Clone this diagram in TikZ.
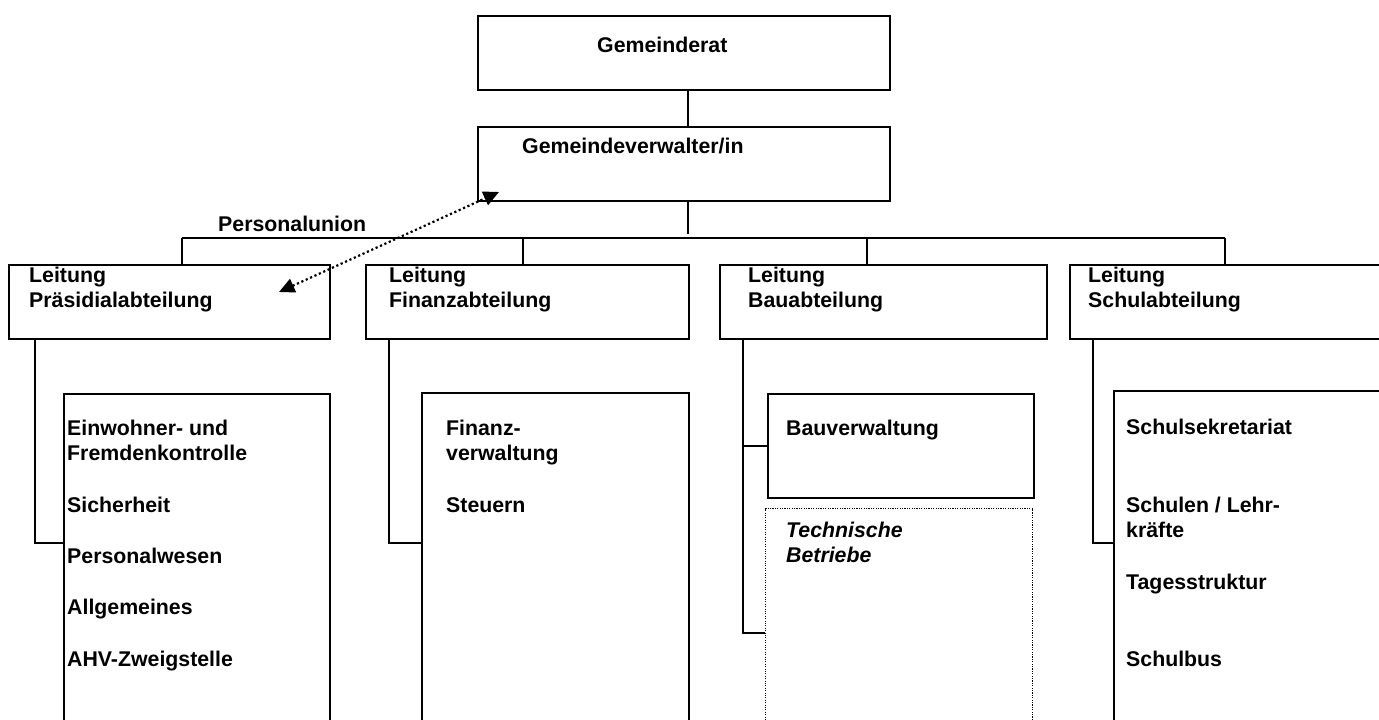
\documentclass[tikz,border=0pt]{standalone}
\usepackage{fontspec}
\setmainfont{Liberation Sans}
\usetikzlibrary{
  arrows.meta
  , calc
}

\begin{document}
\begin{tikzpicture}[
    x=1pt, y=-1pt
    , box/.style={draw, line width=1.7pt, inner sep=0pt, anchor=north west}
    , planned/.style={box, line width=1.1pt, dash pattern=on 1.1pt off 1.3pt}
    , txt/.style={font=\fontsize{21.3}{25.3}\selectfont\bfseries
        , inner sep=0pt, anchor=north west, align=left}
    , conn/.style={line width=1.5pt}
    , union/.style={line width=2.2pt, dash pattern=on 2.2pt off 2.6pt
        , arrows={Triangle[length=15.5pt,width=14.5pt]-Triangle[length=15.5pt,width=14.5pt]}}
  ]
  \useasboundingbox (0,0) rectangle (1379,720);
  \clip (0,0) rectangle (1379,720);

  % top of the chart
  \node [box, minimum width=412pt, minimum height=74pt] (rat) at (477,15) {};
  \node [box, minimum width=412pt, minimum height=74pt] (verw) at (477,126) {};
  \node [txt] (ratT) at ([xshift=120pt,yshift=-22pt]rat.north west) {Gemeinderat};
  \node [txt] (verwT) at ([xshift=45pt,yshift=-12pt]verw.north west) {Gemeindeverwalter/in};
  \draw [conn] ([xshift=4pt]rat.south) -- ([xshift=4pt]verw.north);
  \draw [conn] ([xshift=4pt]verw.south) -- ++(0,32) coordinate (hub);

  % departments
  \node [box, minimum width=321pt, minimum height=74pt] (praes) at (8,264) {};
  \node [box, minimum width=323pt, minimum height=74pt] (fin) at (365,264) {};
  \node [box, minimum width=327pt, minimum height=74pt] (bau) at (719,264) {};
  \node [box, minimum width=330pt, minimum height=74pt] (schul) at (1069,264) {};

  \node [txt] (praesT) at ([xshift=21pt,yshift=-3pt]praes.north west) {Leitung\\Präsidialabteilung};
  \node [txt] (finT) at ([xshift=24pt,yshift=-3pt]fin.north west) {Leitung\\Finanzabteilung};
  \node [txt] (bauT) at ([xshift=29pt,yshift=-3pt]bau.north west) {Leitung\\Bauabteilung};
  \node [txt] (schulT) at ([xshift=19pt,yshift=-3pt]schul.north west) {Leitung\\Schulabteilung};

  \coordinate (b1) at (182,238);
  \coordinate (b2) at (523,238);
  \coordinate (b3) at (867,238);
  \coordinate (b4) at (1225,238);
  \draw [conn] (b1) -- (b4);
  \foreach \d/\n in {b1/praes, b2/fin, b3/bau, b4/schul}
    \draw [conn] (\d) -- (\d |- \n.north);

  % sections
  \node [box, minimum width=266pt, minimum height=340pt] (psub) at (63,393) {};
  \node [box, minimum width=267pt, minimum height=340pt] (fsub) at (421,392) {};
  \node [box, minimum width=266pt, minimum height=104pt] (bv) at (767,393) {};
  \node [planned, minimum width=267pt, minimum height=230pt] (tb) at (765,508) {};
  \node [box, minimum width=290pt, minimum height=340pt] (ssub) at (1113,390) {};

  \node [txt] (psubT) at ([xshift=4pt,yshift=-27pt]psub.north west)
    {Einwohner- und\\Fremdenkontrolle\\[26pt]Sicherheit\\[26pt]Personalwesen\\[26pt]Allgemeines\\[26pt]AHV-Zweigstelle};
  \node [txt] (fsubT) at ([xshift=25pt,yshift=-28pt]fsub.north west)
    {Finanz-\\verwaltung\\[26pt]Steuern};
  \node [txt] (bvT) at ([xshift=19pt,yshift=-27pt]bv.north west) {Bauverwaltung};
  \node [txt, font=\fontsize{21.3}{25.3}\selectfont\bfseries\itshape] (tbT)
    at ([xshift=21pt,yshift=-14pt]tb.north west) {Technische\\Betriebe};
  \node [txt] (ssubT) at ([xshift=13pt,yshift=-29pt]ssub.north west)
    {Schulsekretariat\\[52.5pt]Schulen / Lehr-\\kräfte\\[26pt]Tagesstruktur\\[52pt]Schulbus};

  \coordinate (pv) at ([xshift=27pt]praes.south west);
  \coordinate (fv) at ([xshift=24pt]fin.south west);
  \coordinate (bauv) at ([xshift=24pt]bau.south west);
  \coordinate (sv) at ([xshift=24pt]schul.south west);
  \draw [conn] (pv) |- ([yshift=-150pt]psub.north west);
  \draw [conn] (fv) |- ([yshift=-151pt]fsub.north west);
  \draw [conn] (bauv) |- ([yshift=-125pt]tb.north west);
  \draw [conn] (bauv |- bv.west) -- (bv.west);
  \draw [conn] (sv) |- ([yshift=-153pt]ssub.north west);

  % Personalunion
  \node [txt, anchor=base west] (unionT) at (218,231) {Personalunion};
  \coordinate (ua) at (279,292);
  \coordinate (ub) at (499,192);
  \draw [union] (ua) -- (ub);
\end{tikzpicture}
\end{document}
